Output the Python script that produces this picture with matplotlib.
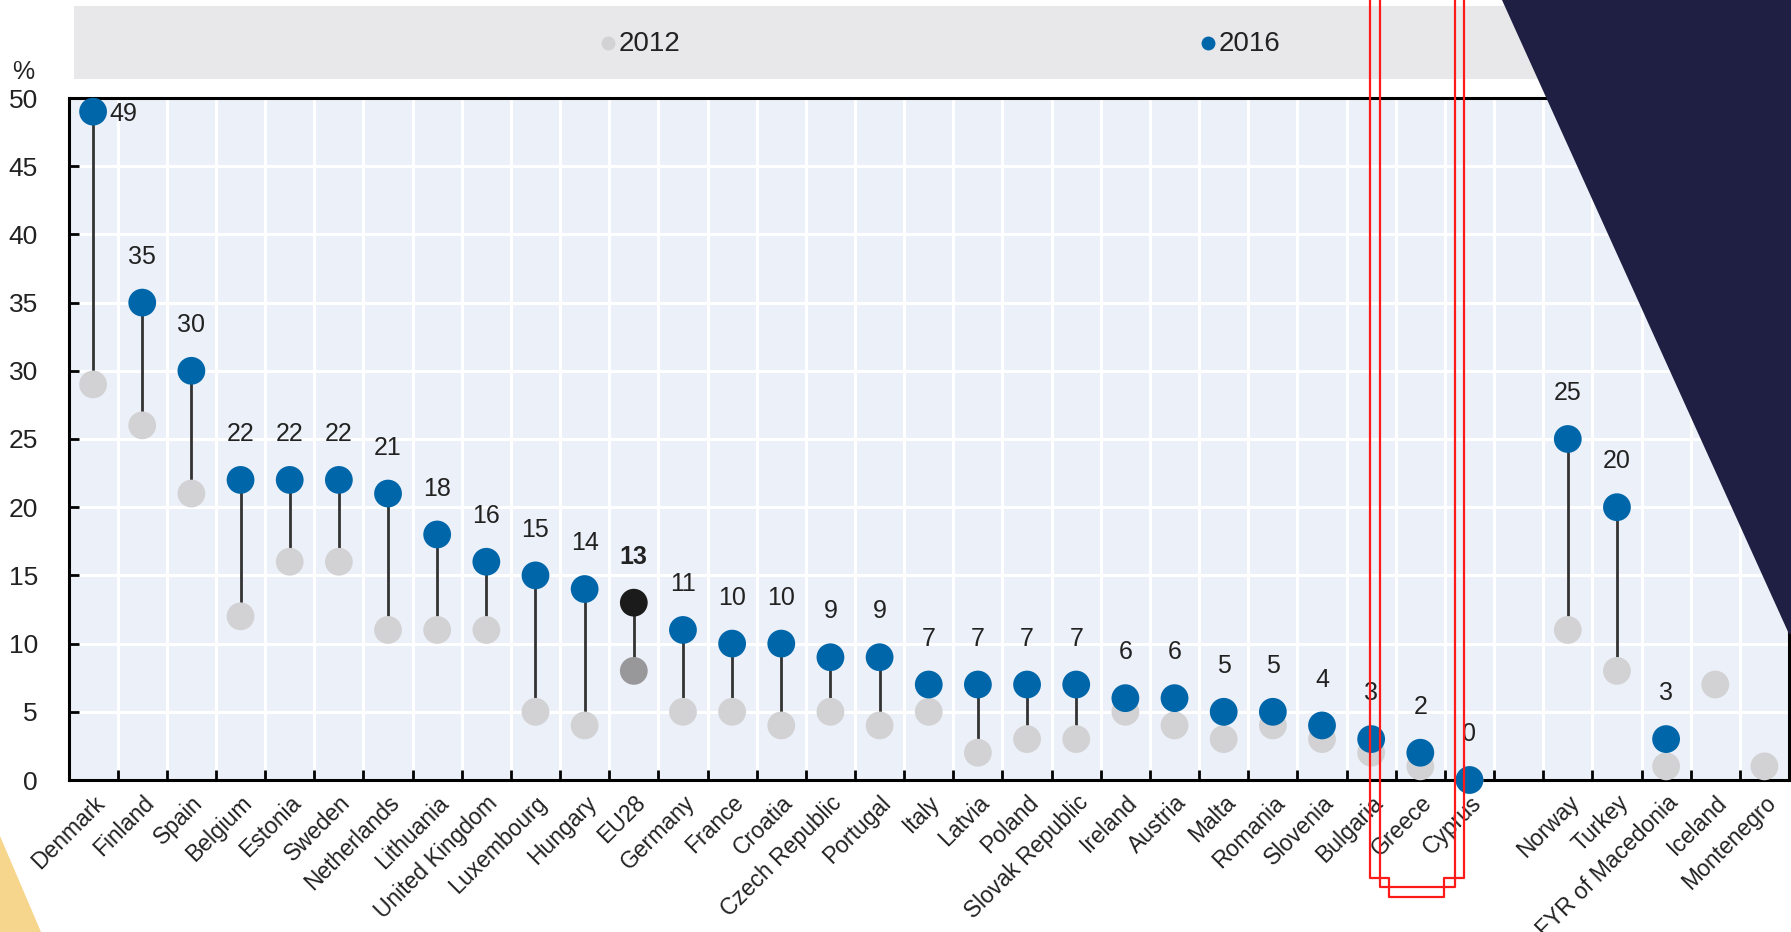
import matplotlib
matplotlib.use("Agg")
import matplotlib.pyplot as plt
from matplotlib.patches import Polygon
from matplotlib.lines import Line2D
import numpy as np

countries = ["Denmark", "Finland", "Spain", "Belgium", "Estonia", "Sweden", "Netherlands",
             "Lithuania", "United Kingdom", "Luxembourg", "Hungary", "EU28", "Germany", "France",
             "Croatia", "Czech Republic", "Portugal", "Italy", "Latvia", "Poland",
             "Slovak Republic", "Ireland", "Austria", "Malta", "Romania", "Slovenia", "Bulgaria",
             "Greece", "Cyprus", "", "Norway", "Turkey", "FYR of Macedonia", "Iceland", "Montenegro"]
v2012 = [29, 26, 21, 12, 16, 16, 11, 11, 11, 5, 4, 8, 5, 5, 4, 5, 4, 5, 2, 3, 3, 5, 4, 3, 4, 3,
         2, 1, 0, np.nan, 11, 8, 1, 7, 1]
v2016 = [49, 35, 30, 22, 22, 22, 21, 18, 16, 15, 14, 13, 11, 10, 10, 9, 9, 7, 7, 7, 7, 6, 6, 5, 5,
         4, 3, 2, 0, np.nan, 25, 20, 3, np.nan, np.nan]
legend_labels = ["2012", "2016"]

W, H = 1791, 932
BLUE = "#0066aa"
GREY = "#d2d2d4"
FONT = ["Liberation Sans Narrow", "Liberation Sans", "DejaVu Sans"]
TXT = "#222222"


def fpx(x, y):
    # figure pixel (top-left origin) -> figure fraction
    return (x / W, 1 - y / H)


def draw_overlays(fig):
    # dark navy corner
    fig.patches.append(Polygon([fpx(1502, 0), fpx(W, 0), fpx(W, 634), fpx(1789, 634)],
                               closed=True, facecolor="#1e1f43", edgecolor="none",
                               transform=fig.transFigure, zorder=10))
    # yellow corner bottom-left
    fig.patches.append(Polygon([fpx(0, 836), fpx(41, H), fpx(0, H)], closed=True,
                               facecolor="#f6d68c", edgecolor="none",
                               transform=fig.transFigure, zorder=10))
    # red double outline
    outer = [(1370, 0), (1370, 878), (1389, 878), (1389, 897), (1444, 897), (1444, 878),
             (1464, 878), (1464, 0)]
    inner = [(1379.5, 0), (1379.5, 887), (1454.5, 887), (1454.5, 0)]
    for path in (outer, inner):
        xs = [fpx(x, y)[0] for x, y in path]
        ys = [fpx(x, y)[1] for x, y in path]
        fig.add_artist(Line2D(xs, ys, color="#ff1a1a", lw=1.6, transform=fig.transFigure,
                              zorder=11))


def draw_legend(fig):
    lax = fig.add_axes([74 / W, 1 - 79 / H, (W - 74) / W, 73 / H])
    lax.set_facecolor("#e8e8ea")
    for s in lax.spines.values():
        s.set_visible(False)
    lax.set_xticks([])
    lax.set_yticks([])
    lax.set_xlim(74, W)
    lax.set_ylim(79, 6)
    lax.plot([608], [43], "o", color=GREY, ms=10, mec="none")
    lax.text(619, 44, legend_labels[0], fontsize=20, va="center", ha="left", color=TXT,
             family=FONT)
    lax.plot([1208], [43], "o", color=BLUE, ms=10, mec="none")
    lax.text(1219, 44, legend_labels[1], fontsize=20, va="center", ha="left", color=TXT,
             family=FONT)


def generate_plot():
    fig = plt.figure(figsize=(W / 100, H / 100), dpi=100)
    ax = fig.add_axes([68.5 / W, 1 - 780 / H, (1789 - 68.5) / W, 682 / H])
    ax.set_facecolor("#ecf0f8")
    x = np.arange(len(countries))
    a = np.array(v2012, dtype=float)
    b = np.array(v2016, dtype=float)

    ax.set_xlim(-0.5, len(countries) - 0.5)
    ax.set_ylim(0, 50)

    # grid
    ax.set_yticks(np.arange(0, 51, 5))
    ax.set_xticks(x)
    ax.set_xticks(np.arange(0.5, len(countries) - 1, 1), minor=True)
    ax.grid(which="major", axis="y", color="white", lw=2.2, zorder=0)
    ax.grid(which="minor", axis="x", color="white", lw=2.2, zorder=0)
    ax.set_axisbelow(True)

    # stems
    ok = ~np.isnan(a) & ~np.isnan(b)
    ax.vlines(x[ok], a[ok], b[ok], color="#333333", lw=2, zorder=2)

    c12 = [GREY] * len(x)
    c16 = [BLUE] * len(x)
    eu = countries.index("EU28")
    c12[eu] = "#98989a"
    c16[eu] = "#1b1b1b"
    ax.scatter(x, a, s=400, c=c12, edgecolors="none", zorder=3, clip_on=False)
    ax.scatter(x, b, s=400, c=c16, edgecolors="none", zorder=4, clip_on=False)

    for i, v in enumerate(b):
        if np.isnan(v):
            continue
        weight = "bold" if i == eu else "normal"
        if i == 0:
            ax.annotate("%d" % v, (x[i], v), xytext=(12, -2), textcoords="offset points",
                        ha="left", va="center", fontsize=18, family=FONT, color=TXT)
        else:
            ax.annotate("%d" % v, (x[i], v), xytext=(0, 33), textcoords="offset points",
                        ha="center", va="center", fontsize=18, family=FONT, color=TXT,
                        fontweight=weight)

    # spines and ticks
    for s in ax.spines.values():
        s.set_color("black")
        s.set_linewidth(2.2)
    ax.tick_params(axis="y", which="major", direction="in", length=7, width=2, pad=22,
                   labelsize=19)
    ax.tick_params(axis="x", which="major", length=0, pad=8, labelsize=16.5)
    ax.tick_params(axis="x", which="minor", direction="in", length=7, width=2)
    for lab in ax.get_yticklabels():
        lab.set_family(FONT)
        lab.set_color(TXT)
    ax.set_xticklabels(countries, rotation=45, ha="right", rotation_mode="anchor",
                       family=FONT, color=TXT)
    fig.text(23 / W, 1 - 72 / H, "%", fontsize=18, family=FONT, ha="center", va="center",
             color=TXT)

    draw_legend(fig)
    draw_overlays(fig)
    fig.savefig("out.png", dpi=100)


def main():
    generate_plot()


if __name__ == "__main__":
    main()
